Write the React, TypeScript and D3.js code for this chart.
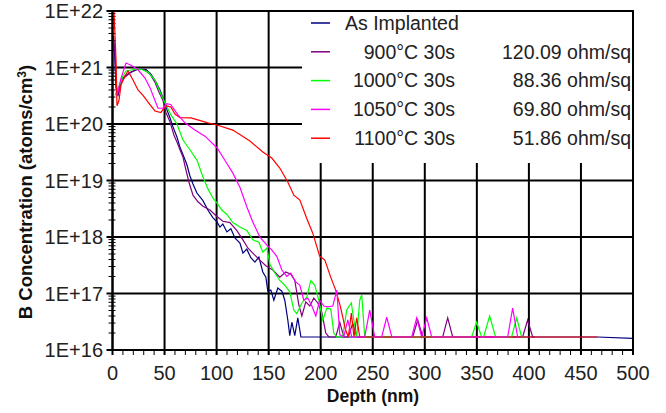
import React from 'react';
import * as d3 from 'd3';

// [depth nm, boron concentration atoms/cm3]
const asImplanted: [number, number][] = [
  [1, 3.6e21], [1.9, 1.9e21], [3.4, 4.4e20], [5.3, 3.2e20], [8.2, 6.0e20], [12, 7.1e20],
  [17.8, 8.3e20], [24.5, 9.3e20], [32.1, 9.3e20], [36.9, 7.6e20], [41.7, 5.5e20], [45.6, 4.0e20],
  [49.4, 2.6e20], [52.3, 1.78e20], [55.2, 1.29e20], [58.1, 8.9e19], [61.9, 5.9e19], [64.8, 3.9e19],
  [68.6, 2.6e19], [71.5, 1.9e19], [74.4, 1.2e19], [77.3, 8.7e18], [81.1, 6.0e18], [86.9, 4.4e18],
  [91.6, 3.0e18], [96.4, 2.2e18], [100.3, 1.85e18], [103.2, 1.5e18], [106, 1.7e18], [109.9, 1.23e18],
  [113.7, 1.4e18], [117.6, 9.6e17], [122.4, 7.8e17], [125.3, 5.2e17], [129, 6.1e17], [132.9, 4.3e17],
  [136.8, 3.6e17], [140.6, 4.4e17], [144.4, 2.4e17], [147.3, 1.95e17], [149.2, 1.1e17], [152.1, 1.15e17],
  [155, 7.6e16], [158.8, 1.25e17], [162.7, 1.1e17], [165.5, 7.6e16], [168.4, 3.4e16], [170.3, 1.8e16],
  [172.3, 3.1e16], [175.1, 1.8e16], [178, 3.7e16], [181, 1.7e16], [466, 1.7e16], [499.5, 1.6e16],
];

const c900: [number, number][] = [
  [1, 3.1e21], [2.4, 1.66e21], [3.8, 3.7e20], [5.3, 3.2e20], [8.2, 5.5e20], [12, 6.8e20],
  [16.8, 8.0e20], [22.6, 9.3e20], [30.2, 9.3e20], [36, 7.6e20], [40.8, 5.5e20], [44.6, 3.7e20],
  [48.5, 2.6e20], [51.3, 1.6e20], [55.2, 1.1e20], [59, 6.4e19], [61.9, 4.8e19], [64.8, 3.5e19],
  [67.7, 2.6e19], [70.5, 1.55e19], [73.4, 9.4e18], [77.3, 5.5e18], [82.1, 4.2e18], [86.9, 3.5e18],
  [93.6, 3.0e18], [100.3, 2.3e18], [106.1, 1.9e18], [112.8, 1.8e18], [119.5, 1.3e18], [125.3, 8.9e17],
  [130, 6.4e17], [134.8, 5.2e17], [141.5, 3.9e17], [147.3, 3.1e17], [154, 2.6e17], [160.7, 1.95e17],
  [166.5, 2.4e17], [171.3, 2.2e17], [175.1, 1.7e17], [179, 6.3e16], [181.9, 4.0e16], [185.7, 7.1e16],
  [189.5, 6.0e16], [193.4, 8.3e16], [197.2, 6.8e16], [201, 4.7e16], [204.9, 2.0e16], [207.8, 1.7e16],
  [214.5, 1.7e16], [218.3, 3.1e16], [222.2, 1.7e16], [226.5, 1.7e16], [230.8, 3.0e16], [234.6, 1.7e16],
  [288.4, 1.7e16], [293.2, 3.4e16], [298, 1.7e16], [317.2, 1.7e16], [322, 3.7e16], [326.8, 1.7e16],
  [394, 1.7e16], [398.8, 3.4e16], [403.6, 1.7e16], [405.5, 1.7e16],
];

const c1000: [number, number][] = [
  [2.4, 3.2e20], [5.3, 4.4e20], [7.2, 5.1e20], [10.1, 7.1e20], [13, 8.7e20], [21.6, 9.3e20],
  [27.4, 9.3e20], [34.1, 8.3e20], [40.8, 6.0e20], [46.5, 3.4e20], [51.3, 2.2e20], [56.1, 1.45e20],
  [61.9, 1.0e20], [67.7, 5.2e19], [74.4, 3.5e19], [81.1, 2.3e19], [86.9, 1.15e19], [91.7, 7.1e18],
  [96.4, 4.9e18], [100.3, 4.0e18], [105, 3.0e18], [109.9, 2.5e18], [115.6, 1.8e18], [122.4, 1.5e18],
  [129.1, 1.3e18], [134.8, 8.9e17], [140.6, 8.1e17], [144.4, 5.4e17], [148.3, 6.4e17], [151.2, 3.3e17],
  [156, 2.3e17], [160.7, 1.7e17], [165.5, 1.4e17], [170.3, 1.07e17], [174.2, 5.1e16], [177, 4.4e16],
  [181.9, 6.8e16], [186.7, 8.7e16], [190.5, 1.7e17], [194.3, 1.4e17], [198.2, 7.6e16], [202, 3.4e16],
  [205.9, 5.5e16], [209.7, 5.3e16], [212.6, 2.0e16], [215.5, 1.7e16], [221, 1.7e16], [225, 5.1e16],
  [229.4, 6.8e16], [231.8, 3.4e16], [234.6, 1.7e16], [237.5, 7.6e16], [239.4, 9.4e16], [242.3, 1.7e16],
  [345, 1.7e16], [349.8, 3.1e16], [354.6, 1.7e16], [356.5, 1.7e16], [362.3, 4.0e16], [368, 1.7e16],
  [383.4, 1.7e16], [388.2, 3.7e16], [393, 1.7e16], [395, 1.7e16],
];

const c1050: [number, number][] = [
  [4.3, 3.2e20], [8.2, 6.5e20], [13, 1.2e21], [17.8, 1.1e21], [24.5, 9.1e20], [31.2, 6.5e20],
  [36, 4.4e20], [40.8, 2.6e20], [43.7, 1.9e20], [48.5, 1.9e20], [52.3, 2.3e20], [56.1, 2.2e20],
  [62.9, 1.45e20], [69.6, 1.05e20], [79.2, 7.8e19], [88.8, 6.1e19], [100.3, 3.8e19], [109.9, 2.0e19],
  [115.6, 1.35e19], [122.4, 7.6e18], [129.1, 3.4e18], [134.8, 1.85e18], [141.5, 1.0e18], [148.3, 7.2e17],
  [153, 5.9e17], [157.9, 4.5e17], [162.7, 2.6e17], [167.5, 2.0e17], [171.3, 2.3e17], [176.1, 1.6e17],
  [180, 1.4e17], [183.8, 7.6e16], [187.6, 8.3e16], [191.5, 6.0e16], [195.3, 4.0e16], [199, 7.6e16],
  [203, 6.0e16], [206.8, 5.8e16], [211.6, 6.0e16], [215.5, 1.15e17], [218.3, 1.85e16], [222.2, 1.7e16],
  [226, 3.4e16], [229.8, 1.7e16], [242.3, 1.7e16], [247.1, 5.1e16], [251.9, 1.7e16], [258.6, 1.7e16],
  [263.4, 3.8e16], [268.3, 1.7e16], [287.4, 1.7e16], [292.2, 3.7e16], [297, 1.7e16], [301.9, 3.7e16],
  [306.6, 1.7e16], [379.6, 1.7e16], [384.4, 5.5e16], [389.2, 1.7e16], [390, 1.7e16],
];

const c1100: [number, number][] = [
  [1.4, 1e22], [3.4, 1.35e21], [4.3, 2.1e20], [6.2, 2.6e20], [8.2, 4.9e20], [12, 7.1e20],
  [14.9, 8.7e20], [19.7, 6.0e20], [24.5, 4.0e20], [29.3, 3.2e20], [36, 2.2e20], [40.8, 1.7e20],
  [46.5, 1.6e20], [51.3, 2.1e20], [56.1, 2.0e20], [60, 1.5e20], [64.8, 1.3e20], [75.3, 1.28e20],
  [91.7, 1.05e20], [100.3, 9.6e19], [115.6, 7.8e19], [132, 5.0e19], [144.4, 3.2e19], [153, 2.5e19],
  [160.7, 1.66e19], [168.4, 9.4e18], [174.2, 5.5e18], [180, 4.5e18], [186.7, 2.1e18], [192.4, 1.17e18],
  [199, 4.6e17], [204, 3.9e17], [209.6, 1.95e17], [214.4, 1.15e17], [219, 5.8e16], [223.8, 2.3e16],
  [226.6, 1.7e16], [229.4, 4.5e16], [232, 1.7e16], [234.6, 3.7e16], [237.5, 1.7e16], [466, 1.7e16],
];

const seriesNames = ['As Implanted', '900°C 30s', '1000°C 30s', '1050°C 30s', '1100°C 30s'];
const sheetRes = ['', '120.09 ohm/sq', '88.36 ohm/sq', '69.80 ohm/sq', '51.86 ohm/sq'];
const seriesColors = ['#000080', '#800080', '#00ff00', '#ff00ff', '#ff0000'];
const seriesData = [asImplanted, c900, c1000, c1050, c1100];
const drawOrder = [0, 1, 2, 4, 3];

const depthTicks = [0, 50, 100, 150, 200, 250, 300, 350, 400, 450, 500];
const concTicks = [1e16, 1e17, 1e18, 1e19, 1e20, 1e21, 1e22];

const W = 666;
const H = 413;
const m = { left: 112.5, right: 633, top: 11, bottom: 350 };

export default function App() {
  const x = d3.scaleLinear().domain([0, 500]).range([m.left, m.right]);
  const y = d3.scaleLog().domain([1e16, 1e22]).range([m.bottom, m.top]);
  const line = d3
    .line<[number, number]>()
    .x((d) => x(d[0]))
    .y((d) => y(d[1]));

  const minorY = y.ticks().filter((t) => !concTicks.includes(t));
  const minorX = d3.range(0, 501, 10);
  const font = 'Liberation Sans, Arial, sans-serif';

  return (
    <svg width={W} height={H} style={{ position: 'absolute', left: 0, top: 0, background: '#fff' }}>
      <rect width={W} height={H} fill="#fff" />
      {/* grid */}
      <g stroke="#000" strokeWidth={2}>
        {concTicks.map((t) => (
          <line key={'h' + t} x1={m.left - 6} x2={m.right} y1={y(t)} y2={y(t)} />
        ))}
        {depthTicks.map((t) => (
          <line key={'v' + t} x1={x(t)} x2={x(t)} y1={m.top} y2={m.bottom + 5} />
        ))}
      </g>
      <g stroke="#000" strokeWidth={1}>
        {minorY.map((t, i) => (
          <line key={'my' + i} x1={m.left - 4} x2={m.left + 3} y1={y(t)} y2={y(t)} />
        ))}
        {minorX.map((t) => (
          <line key={'mx' + t} x1={x(t)} x2={x(t)} y1={m.bottom} y2={m.bottom + 5} />
        ))}
      </g>
      {/* legend box covers grid */}
      <rect x={302} y={m.top + 1} width={m.right - 303} height={151} fill="#fff" />

      {drawOrder.map((i) => (
        <path key={i} d={line(seriesData[i]) ?? ''} fill="none" stroke={seriesColors[i]} strokeWidth={1.2} />
      ))}

      {/* legend */}
      <g fontFamily={font} fontSize={19.5} fill="#222">
        {seriesNames.map((name, i) => {
          const cy = 23 + i * 28.8;
          return (
            <g key={name}>
              <line x1={311} x2={330} y1={cy} y2={cy} stroke={seriesColors[i]} strokeWidth={1.5} />
              {i === 0 ? (
                <text x={345} y={cy} dy="0.35em">{name}</text>
              ) : (
                <text x={455} y={cy} dy="0.35em" textAnchor="end">{name}</text>
              )}
              {sheetRes[i] && (
                <text x={631} y={cy} dy="0.35em" textAnchor="end">{sheetRes[i]}</text>
              )}
            </g>
          );
        })}
      </g>

      {/* frame */}
      <rect x={m.left} y={m.top} width={m.right - m.left} height={m.bottom - m.top} fill="none" stroke="#000" strokeWidth={2} />

      {/* tick labels */}
      <g fontFamily={font} fontSize={20} fill="#222">
        {concTicks.map((t) => (
          <text key={t} x={103} y={y(t)} dy="0.36em" textAnchor="end">
            {'1E+' + Math.round(Math.log10(t))}
          </text>
        ))}
        {depthTicks.map((t) => (
          <text key={t} x={x(t)} y={373} dy="0.36em" textAnchor="middle">
            {t}
          </text>
        ))}
      </g>

      <text x={373} y={396} dy="0.36em" textAnchor="middle" fontFamily={font} fontWeight="bold" fontSize={17.5} fill="#111">
        Depth (nm)
      </text>
      <text
        transform="translate(32,192) rotate(-90)"
        textAnchor="middle"
        fontFamily={font}
        fontWeight="bold"
        fontSize={18.5}
        fill="#111"
      >
        B Concentration (atoms/cm<tspan dy={-6} fontSize={12}>3</tspan><tspan dy={6}>)</tspan>
      </text>
    </svg>
  );
}
